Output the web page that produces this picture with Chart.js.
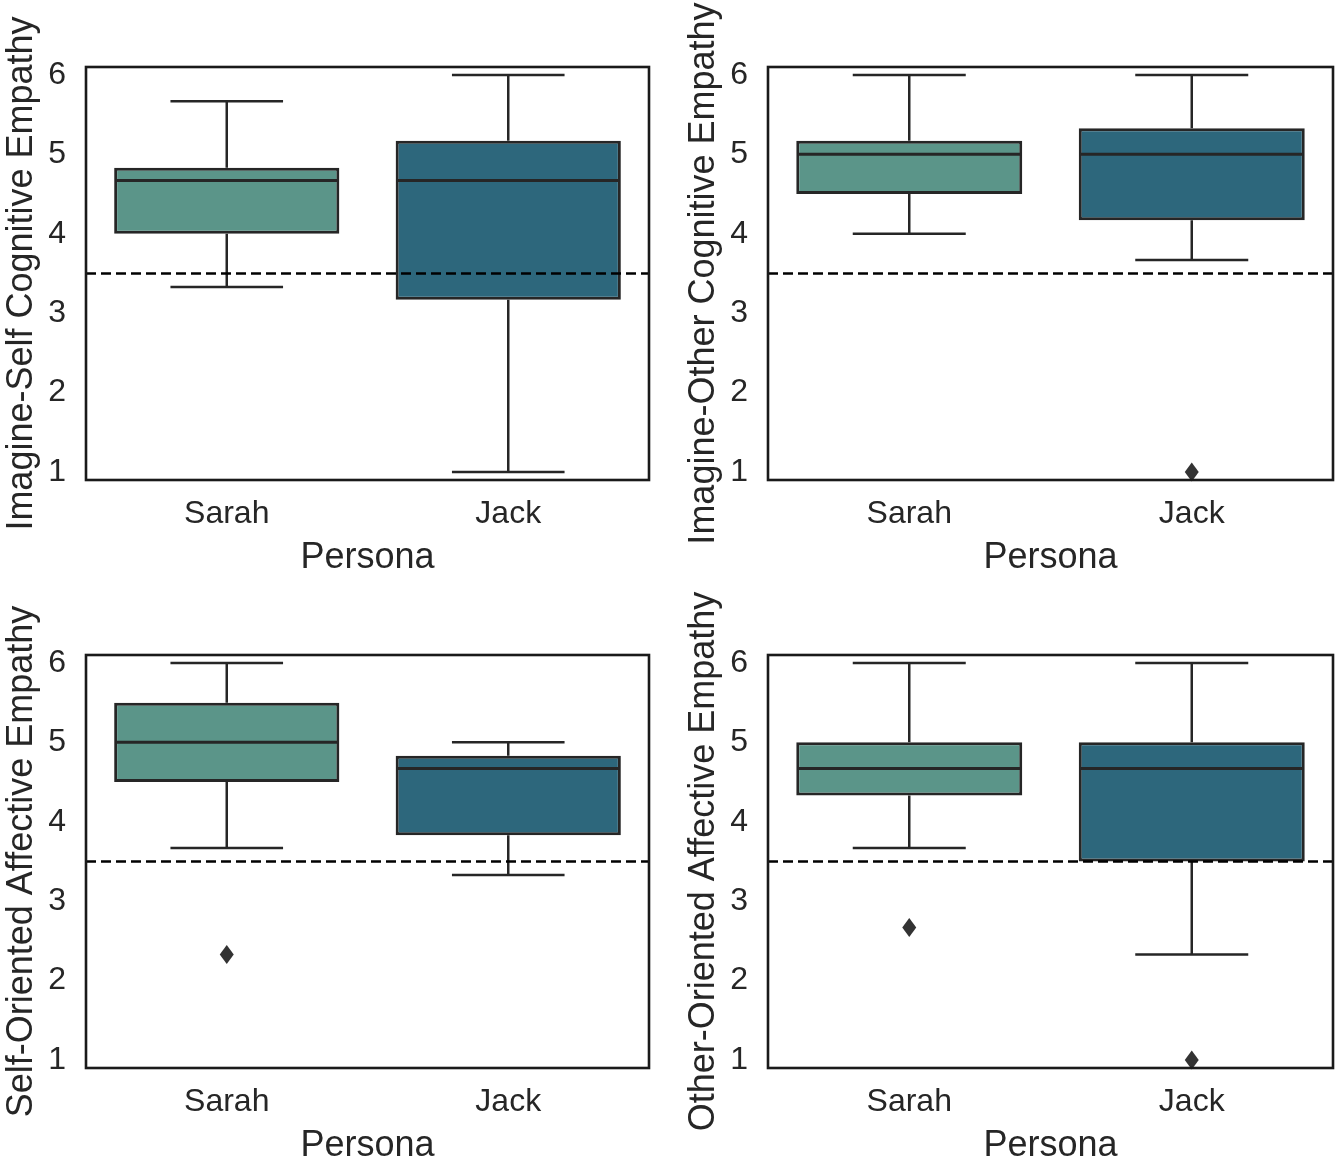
<!DOCTYPE html>
<html>
<head>
<meta charset="utf-8">
<title>Empathy by persona</title>
<script src="https://cdn.jsdelivr.net/npm/chart.js@4.4.0/dist/chart.umd.min.js"></script>
<style>
   html, body { margin: 0; padding: 0; background: #fff; overflow: hidden; }
   .panel { position: absolute; }
</style>
</head>
<body>
<div class="panel" style="left:0px;top:0px"><canvas id="c0" width="665" height="580"></canvas></div>
<div class="panel" style="left:682px;top:0px"><canvas id="c1" width="653" height="580"></canvas></div>
<div class="panel" style="left:0px;top:588px"><canvas id="c2" width="665" height="580"></canvas></div>
<div class="panel" style="left:682px;top:588px"><canvas id="c3" width="653" height="580"></canvas></div>
<script>
// data
const personas = ['Sarah', 'Jack'];
const panelTitles = [
   'Imagine-Self Cognitive Empathy',
   'Imagine-Other Cognitive Empathy',
   'Self-Oriented Affective Empathy',
   'Other-Oriented Affective Empathy'
];
const xTitle = 'Persona';
const yTicks = [1, 2, 3, 4, 5, 6];
const cutoff = 3.5;

// one [Sarah, Jack] pair per panel
const whiskerLow  = [[3.33, 1.0],  [4.0, 3.67],  [3.67, 3.33], [3.67, 2.33]];
const quartile1   = [[4.0, 3.17],  [4.5, 4.17],  [4.5, 3.83],  [4.33, 3.5]];
const medians     = [[4.67, 4.67], [5.0, 5.0],   [5.0, 4.67],  [4.67, 4.67]];
const quartile3   = [[4.83, 5.17], [5.17, 5.33], [5.5, 4.83],  [5.0, 5.0]];
const whiskerHigh = [[5.67, 6.0],  [6.0, 6.0],   [6.0, 5.0],   [6.0, 6.0]];
const outliers    = [[[], []],     [[], [1.0]],  [[2.33], []], [[2.67], [1.0]]];

const boxColors = ['#5b9589', '#2d677c'];
const ink = '#262626';

// whiskers, medians, outliers, cutoff line and frame
var boxExtras = {
   id: 'boxExtras',
   beforeDatasetsDraw: function(chart) {
      var p = chart.options.plugins.boxExtras.panel;
      var ctx = chart.ctx, xs = chart.scales.x, ys = chart.scales.y;
      var bars = chart.getDatasetMeta(0).data;
      ctx.save();
      ctx.strokeStyle = ink;
      ctx.lineWidth = 2.5;
      personas.forEach(function(name, i) {
         var cx = xs.getPixelForValue(i);
         var half = bars[i].width / 4;
         [[quartile3[p][i], whiskerHigh[p][i]], [quartile1[p][i], whiskerLow[p][i]]].forEach(function(seg) {
            var y0 = ys.getPixelForValue(seg[0]), y1 = ys.getPixelForValue(seg[1]);
            ctx.beginPath();
            ctx.moveTo(cx, y0); ctx.lineTo(cx, y1);
            ctx.moveTo(cx - half, y1); ctx.lineTo(cx + half, y1);
            ctx.stroke();
         });
      });
      ctx.restore();
   },
   afterDatasetsDraw: function(chart) {
      var p = chart.options.plugins.boxExtras.panel;
      var ctx = chart.ctx, xs = chart.scales.x, ys = chart.scales.y, area = chart.chartArea;
      var bars = chart.getDatasetMeta(0).data;
      ctx.save();
      personas.forEach(function(name, i) {
         var cx = xs.getPixelForValue(i);
         var w = bars[i].width;
         var ym = ys.getPixelForValue(medians[p][i]);
         ctx.strokeStyle = ink;
         ctx.lineWidth = 3;
         ctx.beginPath();
         ctx.moveTo(cx - w / 2 + 1, ym); ctx.lineTo(cx + w / 2 - 1, ym);
         ctx.stroke();
         outliers[p][i].forEach(function(v) {
            var y = ys.getPixelForValue(v);
            ctx.fillStyle = '#333333';
            ctx.beginPath();
            ctx.moveTo(cx, y - 9.5); ctx.lineTo(cx + 7, y);
            ctx.lineTo(cx, y + 9.5); ctx.lineTo(cx - 7, y);
            ctx.closePath();
            ctx.fill();
         });
      });
      // cutoff
      var yc = ys.getPixelForValue(cutoff);
      ctx.strokeStyle = '#000';
      ctx.lineWidth = 2.6;
      ctx.setLineDash([10, 5]);
      ctx.beginPath();
      ctx.moveTo(area.left, yc); ctx.lineTo(area.right, yc);
      ctx.stroke();
      ctx.setLineDash([]);
      // frame
      ctx.strokeStyle = '#1a1a1a';
      ctx.lineWidth = 2.6;
      ctx.strokeRect(area.left, area.top, area.right - area.left, area.bottom - area.top);
      ctx.restore();
   }
};

function initPanel(p, rightPad) {
   var config = {
      type: 'bar',
      data: {
         labels: personas,
         datasets: [{
            data: personas.map(function(n, i) { return [quartile1[p][i], quartile3[p][i]]; }),
            backgroundColor: boxColors,
            borderColor: ink,
            borderWidth: 3,
            borderSkipped: false,
            barPercentage: 0.8,
            categoryPercentage: 1.0
         }]
      },
      options: {
         responsive: false,
         animation: false,
         layout: { padding: { top: 67, right: rightPad, bottom: 0, left: 0 } },
         plugins: {
            legend: { display: false },
            tooltip: { enabled: false },
            boxExtras: { panel: p }
         },
         scales: {
            x: {
               grid: { display: false, drawTicks: false },
               border: { display: false },
               ticks: { color: ink, padding: 15, font: { family: 'Liberation Sans', size: 32 } },
               title: { display: true, text: xTitle, color: ink, padding: 0, font: { family: 'Liberation Sans', size: 36 } },
               afterFit: function(scale) { scale.height = 100; }
            },
            y: {
               min: 0.9,
               max: 6.1,
               grid: { display: false, drawTicks: false },
               border: { display: false },
               ticks: { color: ink, padding: 20, font: { family: 'Liberation Sans', size: 32 } },
               afterBuildTicks: function(scale) { scale.ticks = yTicks.map(function(v) { return { value: v }; }); },
               title: { display: true, text: panelTitles[p], color: ink, padding: 0, font: { family: 'Liberation Sans', size: 36 } },
               afterFit: function(scale) { scale.width = 86; }
            }
         }
      },
      plugins: [boxExtras]
   };
   return new Chart(document.getElementById('c' + p), config);
}

initPanel(0, 16);
initPanel(1, 2);
initPanel(2, 16);
initPanel(3, 2);
</script>
</body>
</html>
